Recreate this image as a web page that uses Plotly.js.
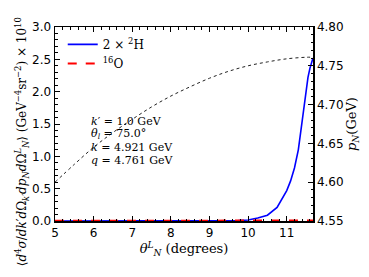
<!DOCTYPE html>
<html><head><meta charset="utf-8">
<script src="https://cdn.plot.ly/plotly-3.0.1.min.js"></script>
<style>html,body{margin:0;padding:0;background:#fff}</style>
</head><body><div id="c" style="width:369px;height:277px"></div>
<script>
// p_N (right axis) vs theta
var thetaP = [5.0, 5.5, 6.0, 6.5, 7.0, 7.5, 8.0, 8.5, 9.0, 9.5, 10.0, 10.5, 11.0, 11.5, 11.68];
var pN = [4.600, 4.623, 4.645, 4.664, 4.681, 4.697, 4.711, 4.723, 4.734, 4.743, 4.750, 4.755, 4.759, 4.761, 4.761];
// 2 x 2H cross section
var thetaH = [5.0, 6.0, 7.0, 8.0, 9.0, 9.5, 9.75, 10.0, 10.25, 10.5, 10.75, 11.0, 11.1, 11.2, 11.3, 11.4, 11.45, 11.5, 11.55, 11.6, 11.64, 11.68];
var sigH = [0.0, 0.0, 0.0, 0.0, 0.0, 0.002, 0.006, 0.016, 0.045, 0.09, 0.21, 0.47, 0.62, 0.82, 1.10, 1.55, 1.80, 2.02, 2.22, 2.36, 2.45, 2.52];
// 16O cross section
var thetaO = [5.0, 6.0, 7.0, 8.0, 9.0, 10.0, 10.5, 11.0, 11.5, 11.68];
var sigO = [0.002, 0.002, 0.003, 0.003, 0.004, 0.005, 0.006, 0.007, 0.008, 0.008];

var serif = "DejaVu Serif";
var sans = "DejaVu Sans";
var traces = [
  {x: thetaH, y: sigH, mode: 'lines', name: '2 × <sup>2</sup>H', line: {color: '#0000ff', width: 1.6}},
  {x: thetaO, y: sigO, mode: 'lines', name: '<sup>16</sup>O', line: {color: '#ff0000', width: 2, dash: 'dash'}},
  {x: thetaP, y: pN, mode: 'lines', yaxis: 'y2', showlegend: false, line: {color: '#222222', width: 1, dash: 'dot', shape: 'spline'}}
];
var layout = {
  width: 369, height: 277,
  margin: {l: 55, r: 56, t: 27, b: 56},
  paper_bgcolor: '#fff', plot_bgcolor: '#fff',
  showlegend: true,
  legend: {x: 0.03, y: 0.985, xanchor: 'left', yanchor: 'top', bgcolor: 'rgba(0,0,0,0)', font: {family: serif, size: 12, color: '#000'}, itemwidth: 30, tracegroupgap: 0},
  xaxis: {range: [5, 11.68], tickvals: [5, 6, 7, 8, 9, 10, 11], ticks: 'inside', ticklen: 5, tickwidth: 1, tickcolor: '#000',
    minor: {dtick: 0.2, ticks: 'inside', ticklen: 2.5, tickcolor: '#000'},
    showline: true, linecolor: '#000', linewidth: 1.5, mirror: 'ticks', showgrid: false, zeroline: false,
    tickfont: {family: sans, size: 12, color: '#000'},
    title: {text: '<i>θ</i><sup><i>L</i></sup><sub><i>N</i></sub> (degrees)', font: {family: serif, size: 13, color: '#000'}, standoff: 3}},
  yaxis: {range: [0, 3.0], tickvals: [0, 0.5, 1.0, 1.5, 2.0, 2.5, 3.0], ticktext: ['0.0', '0.5', '1.0', '1.5', '2.0', '2.5', '3.0'],
    ticks: 'inside', ticklen: 5, tickcolor: '#000', minor: {dtick: 0.1, ticks: 'inside', ticklen: 2.5, tickcolor: '#000'},
    showline: true, linecolor: '#000', linewidth: 1.5, showgrid: false, zeroline: false,
    tickfont: {family: sans, size: 12, color: '#000'}},
  yaxis2: {overlaying: 'y', side: 'right', range: [4.55, 4.80], tickvals: [4.55, 4.60, 4.65, 4.70, 4.75, 4.80], ticktext: ['4.55', '4.60', '4.65', '4.70', '4.75', '4.80'],
    ticks: 'inside', ticklen: 5, tickcolor: '#000', minor: {dtick: 0.01, ticks: 'inside', ticklen: 2.5, tickcolor: '#000'},
    showline: true, linecolor: '#000', linewidth: 1.5, showgrid: false, zeroline: false,
    tickfont: {family: sans, size: 12, color: '#000'},
    title: {text: '<i>p<sub>N</sub></i>(GeV)', font: {family: serif, size: 13, color: '#000'}, standoff: 4}},
  annotations: [
    {xref: 'paper', yref: 'paper', x: -0.125, y: 0.41, textangle: -90, showarrow: false, xanchor: 'center', yanchor: 'middle',
     text: '⟨<i>d</i><sup>4</sup><i>σ</i>/<i>dk</i>′<i>d</i>Ω<sub><i>k</i>′</sub><i>dp<sub>N</sub>d</i>Ω<sup><i>L</i></sup><sub><i>N</i></sub>⟩ (GeV<sup>−4</sup>sr<sup>−2</sup>) × 10<sup>10</sup>',
     font: {family: serif, size: 12, color: '#000'}},
    {xref: 'paper', yref: 'paper', x: 0.13, y: 0.515, xanchor: 'left', yanchor: 'middle', showarrow: false, align: 'left',
     text: '<i>k</i>′ = 1.0 GeV', font: {family: serif, size: 11, color: '#000'}},
    {xref: 'paper', yref: 'paper', x: 0.13, y: 0.45, xanchor: 'left', yanchor: 'middle', showarrow: false, align: 'left',
     text: '<i>θ<sub>l</sub></i> = 75.0°', font: {family: serif, size: 11, color: '#000'}},
    {xref: 'paper', yref: 'paper', x: 0.13, y: 0.38, xanchor: 'left', yanchor: 'middle', showarrow: false, align: 'left',
     text: '<i>k</i> = 4.921 GeV', font: {family: serif, size: 11, color: '#000'}},
    {xref: 'paper', yref: 'paper', x: 0.13, y: 0.31, xanchor: 'left', yanchor: 'middle', showarrow: false, align: 'left',
     text: '<i>q</i> = 4.761 GeV', font: {family: serif, size: 11, color: '#000'}}
  ]
};
Plotly.newPlot('c', traces, layout, {displayModeBar: false, staticPlot: true});
</script></body></html>
